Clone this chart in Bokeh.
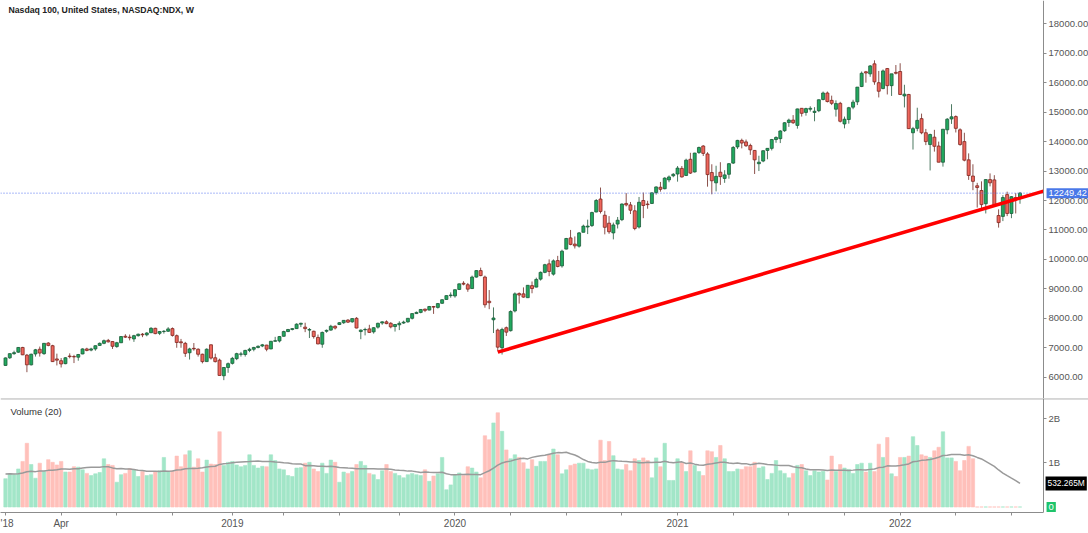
import numpy as np
from bokeh.plotting import figure
from bokeh.models import Range1d, FixedTicker, NumeralTickFormatter, Label, Span, ColumnDataSource
from bokeh.layouts import column
from bokeh.embed import file_html
from bokeh.resources import INLINE

# ---------------- data (weekly NDX, Jan 2018 - Jul 2022) ----------------
opens = [
    6400, 6660, 6800, 6850, 7010, 6750, 6420, 6790, 6950, 6800,
    7160, 7070, 6620, 6560, 6460, 6720, 6700, 6680, 6790, 6960,
    6920, 6960, 7080, 7150, 7250, 7210, 7040, 7170, 7390, 7360,
    7300, 7410, 7460, 7440, 7510, 7660, 7490, 7550, 7560, 7650,
    7410, 7200, 7150, 6830, 6980, 6950, 6780, 6530, 7100, 6660,
    6580, 6050, 6330, 6470, 6630, 6780, 6770, 6910, 6950, 7010,
    7060, 7090, 6960, 7220, 7230, 7390, 7550, 7620, 7650, 7800,
    7700, 7600, 7560, 7350, 7120, 7560, 7600, 7730, 7790, 7850,
    7940, 7880, 8000, 7550, 7610, 7640, 7540, 7700, 7840, 7880,
    7830, 7720, 7780, 7840, 7880, 8000, 8160, 8200, 8310, 8280,
    8400, 8370, 8510, 8640, 8770, 8760, 8980, 9190, 9140, 9010,
    9400, 9620, 9400, 8580, 7950, 7600, 7000, 7680, 7580, 8250,
    8840, 8830, 8700, 9110, 9060, 9330, 9560, 9850, 9500, 9960,
    9780, 10350, 10730, 10520, 10450, 10920, 11100, 11150, 11610, 12050,
    11500, 11230, 10900, 11200, 11350, 11900, 11850, 11650, 11100, 12000,
    11880, 11900, 12270, 12450, 12400, 12700, 12840, 12900, 13090, 12850,
    13400, 12970, 13630, 13850, 13580, 12950, 12600, 12960, 12750, 12890,
    13270, 13820, 14040, 13990, 13870, 13700, 13250, 13340, 13700, 13770,
    14070, 14100, 14370, 14650, 14730, 14550, 15130, 14990, 15100, 14990,
    15050, 15430, 15650, 15400, 15100, 15300, 14600, 14750, 15170, 15350,
    15870, 16370, 16300, 16640, 16000, 15800, 16480, 15900, 16350, 16380,
    15550, 15600, 14300, 14450, 14780, 14300, 13900, 14150, 13850, 13300,
    14400, 14770, 14850, 14400, 14000, 13380, 12830, 12500, 12340, 11890,
    12710, 12700, 11490, 11460, 12200, 11560, 12100, 12100,
]
highs = [
    6670, 6810, 6900, 7025, 7030, 6790, 6800, 6960, 7040, 7160,
    7190, 7100, 6800, 6650, 6680, 6810, 6760, 6790, 6980, 7000,
    7000, 7080, 7180, 7280, 7300, 7220, 7200, 7390, 7460, 7450,
    7440, 7480, 7500, 7530, 7700, 7680, 7570, 7600, 7700, 7690,
    7450, 7300, 7200, 7000, 7160, 6980, 6800, 6980, 7110, 6800,
    6630, 6340, 6500, 6690, 6830, 6860, 6930, 7000, 7030, 7080,
    7130, 7100, 7230, 7370, 7400, 7580, 7640, 7670, 7830, 7850,
    7850, 7670, 7580, 7450, 7550, 7620, 7780, 7760, 7870, 7940,
    7970, 8000, 8040, 7620, 7680, 7780, 7700, 7850, 7900, 7930,
    7870, 7800, 7900, 7920, 8010, 8170, 8230, 8310, 8330, 8420,
    8420, 8520, 8650, 8780, 8880, 8980, 9180, 9260, 9200, 9450,
    9630, 9720, 9450, 8960, 8370, 7650, 7680, 7720, 8270, 8880,
    8880, 9050, 9130, 9250, 9380, 9590, 9850, 10000, 10000, 10120,
    10330, 10730, 11000, 10780, 10930, 11180, 11350, 11620, 12050, 12440,
    11650, 11470, 11250, 11440, 11900, 12250, 11950, 11840, 12120, 12270,
    11990, 12270, 12480, 12630, 12790, 12850, 12930, 13170, 13170, 13420,
    13620, 13620, 13830, 13880, 13640, 13230, 13180, 13300, 13030, 13270,
    13850, 14060, 14100, 14070, 13930, 13710, 13520, 13700, 13780, 14090,
    14180, 14390, 14660, 14780, 14900, 15120, 15140, 15150, 15200, 15170,
    15430, 15700, 15700, 15560, 15400, 15350, 14850, 15180, 15420, 15850,
    16380, 16400, 16600, 16760, 16400, 16450, 16500, 16300, 16600, 16660,
    15930, 15620, 14500, 15150, 14950, 14430, 14270, 14400, 14000, 14420,
    14800, 15270, 14890, 14450, 14300, 13600, 13230, 12600, 12650, 12720,
    12920, 12860, 11700, 12180, 12300, 12150, 12250, 12290,
]
lows = [
    6390, 6620, 6760, 6830, 6750, 6170, 6400, 6700, 6700, 6760,
    7050, 6520, 6400, 6330, 6440, 6640, 6480, 6560, 6780, 6880,
    6880, 6900, 7060, 7120, 7180, 6960, 7000, 7160, 7330, 7250,
    7200, 7380, 7360, 7390, 7500, 7460, 7430, 7480, 7540, 7380,
    7000, 7000, 6690, 6600, 6900, 6700, 6470, 6530, 6600, 6500,
    6060, 5900, 6150, 6430, 6580, 6700, 6700, 6850, 6880, 6980,
    7020, 6880, 6950, 7210, 7180, 7380, 7530, 7590, 7640, 7700,
    7530, 7330, 7310, 7120, 7000, 7510, 7580, 7620, 7770, 7810,
    7840, 7850, 7660, 7290, 7420, 7500, 7480, 7650, 7780, 7800,
    7660, 7550, 7600, 7810, 7850, 7960, 8150, 8170, 8210, 8270,
    8150, 8330, 8490, 8630, 8700, 8700, 8960, 9120, 8900, 9000,
    9380, 9430, 8360, 8310, 7500, 6880, 6770, 7400, 7550, 8200,
    8500, 8700, 8690, 8850, 9050, 9280, 9530, 9430, 9450, 9730,
    9720, 10340, 10480, 10370, 10400, 10920, 10860, 11100, 11600, 11560,
    10850, 10870, 10680, 11050, 11300, 11800, 11540, 10990, 11050, 11400,
    11720, 11880, 12200, 12300, 12380, 12620, 12790, 12640, 12780, 12830,
    12900, 12950, 13580, 13510, 12470, 12210, 12310, 12530, 12600, 12740,
    13240, 13750, 13770, 13820, 13550, 12900, 13000, 13300, 13400, 13700,
    13960, 13950, 14330, 14500, 14600, 14440, 14850, 14880, 15020, 14690,
    15000, 15400, 15330, 15240, 14850, 14650, 14450, 14610, 15100, 15240,
    15850, 16000, 16200, 15930, 15500, 15780, 15600, 15550, 16280, 15580,
    15160, 14430, 13730, 14350, 14250, 13880, 13020, 13660, 13300, 13150,
    14250, 14600, 14310, 13860, 13330, 12700, 12350, 11760, 11680, 11560,
    12480, 11800, 11080, 11300, 11470, 11400, 11560, 11890,
]
closes = [
    6655, 6800, 6834, 7010, 6760, 6420, 6780, 6930, 6820, 7150,
    7080, 6530, 6580, 6450, 6660, 6700, 6690, 6770, 6960, 6910,
    6960, 7070, 7150, 7240, 7200, 7050, 7170, 7380, 7360, 7340,
    7410, 7460, 7440, 7500, 7660, 7480, 7550, 7560, 7640, 7420,
    7180, 7170, 6810, 6960, 6960, 6780, 6530, 6950, 6650, 6530,
    6060, 6330, 6460, 6640, 6800, 6790, 6910, 6950, 7010, 7050,
    7100, 6950, 7220, 7240, 7380, 7550, 7620, 7650, 7800, 7830,
    7650, 7620, 7380, 7130, 7520, 7590, 7730, 7670, 7850, 7930,
    7870, 7990, 7670, 7600, 7620, 7520, 7680, 7830, 7880, 7820,
    7710, 7790, 7830, 7870, 8000, 8160, 8200, 8300, 8270, 8400,
    8380, 8500, 8630, 8770, 8790, 8970, 9170, 9160, 8990, 9400,
    9620, 9450, 8460, 8530, 8010, 7020, 7620, 7530, 8230, 8830,
    8790, 8720, 9120, 9010, 9320, 9560, 9820, 9590, 9950, 9760,
    10280, 10710, 10510, 10460, 10900, 11130, 11130, 11590, 12000, 11630,
    11090, 10940, 11170, 11330, 11880, 11850, 11670, 11050, 11940, 11830,
    11860, 12260, 12460, 12380, 12760, 12800, 12890, 13100, 12800, 13370,
    12930, 13610, 13800, 13600, 12880, 12670, 12820, 12810, 12870, 13250,
    13800, 14040, 13950, 13860, 13720, 13380, 13300, 13690, 13770, 14070,
    14140, 14360, 14640, 14730, 14640, 15110, 14960, 15120, 15130, 15030,
    15420, 15650, 15360, 15300, 15290, 14690, 14760, 15150, 15340, 15850,
    16320, 16330, 16570, 16030, 15710, 16400, 15900, 16300, 16320, 15600,
    15610, 14440, 14440, 14720, 14300, 14000, 14240, 13840, 13300, 14420,
    14760, 14840, 14450, 13900, 13370, 12850, 12650, 12440, 11860, 12710,
    12600, 11830, 11250, 12100, 11560, 12130, 12050, 12249.42,
]
# weekly volume, billions of shares (data feed has no volume after early May 2022)
volumes = [
    0.64, 0.75, 0.73, 0.86, 1.03, 1.44, 0.96, 0.65, 0.99, 0.80,
    1.07, 1.01, 0.95, 1.03, 0.79, 0.79, 0.91, 0.90, 0.84, 0.76,
    0.71, 0.75, 0.78, 1.09, 0.96, 0.94, 0.56, 0.73, 0.76, 0.87,
    0.84, 0.69, 0.80, 0.71, 0.73, 0.79, 0.82, 1.12, 0.80, 0.82,
    1.15, 0.91, 1.18, 1.27, 0.90, 1.09, 0.79, 1.06, 0.97, 0.96,
    1.70, 0.94, 1.01, 1.03, 0.95, 0.91, 0.94, 1.18, 0.94, 0.88,
    0.92, 0.91, 1.18, 1.05, 0.86, 0.84, 0.71, 0.69, 0.88, 0.89,
    0.99, 1.01, 0.86, 0.80, 0.99, 0.76, 1.06, 1.01, 0.56, 0.79,
    0.76, 0.80, 0.96, 1.03, 0.94, 0.76, 0.73, 0.62, 0.82, 0.96,
    0.80, 0.76, 0.71, 0.66, 0.73, 0.76, 0.73, 0.71, 0.84, 0.58,
    0.70, 0.75, 1.12, 0.39, 0.50, 0.73, 0.77, 0.71, 0.91, 0.88,
    0.79, 0.66, 1.61, 1.52, 1.90, 2.13, 1.71, 1.29, 1.09, 1.18,
    1.12, 1.00, 0.86, 1.07, 0.92, 1.03, 1.03, 1.18, 1.31, 1.18,
    0.75, 0.84, 0.94, 0.97, 0.99, 0.99, 0.86, 0.84, 0.86, 1.51,
    1.05, 1.48, 1.16, 0.86, 0.84, 0.96, 0.82, 1.09, 1.05, 1.11,
    1.05, 0.66, 1.11, 0.91, 1.44, 0.60, 0.60, 1.09, 1.01, 0.80,
    1.27, 0.94, 0.80, 0.71, 1.27, 1.25, 1.12, 1.39, 1.09, 0.80,
    0.80, 0.86, 0.85, 0.91, 0.91, 1.01, 0.88, 0.91, 0.62, 0.76,
    1.05, 0.82, 0.76, 0.66, 0.76, 0.94, 0.96, 0.82, 0.71, 0.82,
    0.79, 0.81, 0.61, 1.15, 0.80, 0.96, 0.88, 0.85, 0.76, 0.96,
    0.99, 0.79, 0.99, 0.80, 1.42, 1.12, 1.57, 0.75, 0.69, 1.12,
    1.12, 1.15, 1.59, 1.39, 1.18, 1.15, 1.12, 1.27, 1.35, 1.70,
    1.11, 1.11, 1.03, 0.82, 1.05, 1.37, 1.09, 0.0, 0.0, 0.0,
    0.0, 0.0, 0.0, 0.0, 0.0, 0.0, 0.0, 0.0,
]
# the 19 weeks before the first bar (feed the 20-week volume average)
volumes_before = [0.72, 0.81, 0.76, 0.70, 0.88, 0.74, 0.79, 0.69, 0.83, 0.77,
                  0.92, 0.75, 0.71, 0.80, 0.86, 0.66, 0.93, 0.52, 0.49]

trend_bars = [115, 242.5]
trend_prices = [6850, 12320]
last_price = 12249.42
last_ma_volume = 0.532265  # billions

price_ticks = [6000, 7000, 8000, 9000, 10000, 11000, 12000, 13000,
               14000, 15000, 16000, 17000, 18000]
volume_ticks = [1, 2]
volume_tick_labels = {1: "1B", 2: "2B"}
time_tick_bars = [0, 13, 26, 39, 53, 65, 78, 92, 105, 118, 131, 144,
                  157, 170, 183, 196, 209, 222, 235]
time_tick_labels = {0: "'18", 13: "Apr", 53: "2019", 105: "2020",
                    157: "2021", 209: "2022"}

# ---------------- derived ----------------
n = len(closes)
xs = list(range(n))
is_up = [c >= o for o, c in zip(opens, closes)]
UP_FILL, UP_LINE, UP_WICK = "#21a95f", "#1c5a38", "#4d7a62"
DN_FILL, DN_LINE, DN_WICK = "#ef675d", "#7d2620", "#8c524c"
VOL_UP, VOL_DN = "#a2e6c8", "#ffc0ba"

all_vol = np.array(volumes_before + volumes)
ma = np.convolve(all_vol, np.ones(20) / 20.0, mode="valid")[: n]

src = ColumnDataSource(dict(
    x=xs, o=opens, h=highs, l=lows, c=closes,
    top=[max(o, c) for o, c in zip(opens, closes)],
    bot=[min(o, c) for o, c in zip(opens, closes)],
    fill=[UP_FILL if u else DN_FILL for u in is_up],
    line=[UP_LINE if u else DN_LINE for u in is_up],
    wick=[UP_WICK if u else DN_WICK for u in is_up],
    vol=volumes,
    vfill=[VOL_UP if u else VOL_DN for u in is_up],
    ma=list(ma),
))

FONT = "Liberation Sans"
AX_COLOR = "#8c8c8c"
LBL_COLOR = "#555555"

X_START = -1.17
X_AXIS_AT = 242.5          # bar position of the price-scale line
X_END = 253.0              # frame spans the whole window width
xr = Range1d(X_START, X_END)


def style_value_axis(ax):
    ax.fixed_location = X_AXIS_AT
    ax.major_label_text_font = FONT
    ax.major_label_text_font_size = "9.5px"
    ax.major_label_text_color = LBL_COLOR
    ax.axis_line_color = AX_COLOR
    ax.major_tick_line_color = AX_COLOR
    ax.major_tick_in = 0
    ax.major_tick_out = 3
    ax.minor_tick_line_color = None
    ax.major_label_standoff = 2


# ---------------- price pane ----------------
p = figure(frame_width=1088, frame_height=398, x_range=xr,
           y_range=Range1d(5277, 18791), output_backend="svg",
           toolbar_location=None, y_axis_location="right", x_axis_location=None,
           min_border_left=0, min_border_right=0, min_border_top=0, min_border_bottom=0)
p.grid.visible = False
p.outline_line_color = None
p.background_fill_color = "white"
p.border_fill_color = "white"

ya = p.yaxis[0]
ya.ticker = FixedTicker(ticks=price_ticks)
ya.formatter = NumeralTickFormatter(format="0.00")
style_value_axis(ya)

p.segment(x0="x", y0="h", x1="x", y1="l", line_color="wick", line_width=1, source=src)
p.vbar(x="x", width=0.7, top="top", bottom="bot", fill_color="fill",
       line_color="line", line_width=0.8, source=src)

p.line([X_START, X_AXIS_AT], [last_price, last_price], line_color="#5574f0",
       line_dash="1 2", line_width=1)
p.line(trend_bars, trend_prices, line_color="#ff0000", line_width=3.5)

p.add_layout(Label(x=0.7, y=18485, text="Nasdaq 100, United States, NASDAQ:NDX, W",
                   text_font=FONT, text_font_size="8.7px", text_font_style="bold",
                   text_color="#222222", text_baseline="middle", text_align="left"))
p.add_layout(Label(x=X_AXIS_AT, y=last_price, x_offset=3, text="12249.42",
                   text_font=FONT, text_font_size="9.2px", text_color="white",
                   text_baseline="middle", text_align="left",
                   background_fill_color="#4a78e8", padding=2))

# ---------------- volume pane ----------------
pv = figure(frame_width=1088, frame_height=114, x_range=xr,
            y_range=Range1d(-0.124, 2.452), output_backend="svg",
            toolbar_location=None, y_axis_location="right", x_axis_location="below",
            min_border_left=0, min_border_right=0, min_border_top=0, min_border_bottom=0)
pv.grid.visible = False
pv.outline_line_color = None
pv.background_fill_color = "white"
pv.border_fill_color = "white"

vy = pv.yaxis[0]
vy.ticker = FixedTicker(ticks=volume_ticks)
vy.major_label_overrides = volume_tick_labels
style_value_axis(vy)

vx = pv.xaxis[0]
vx.ticker = FixedTicker(ticks=time_tick_bars)
vx.major_label_overrides = {b: time_tick_labels.get(b, "") for b in time_tick_bars}
vx.bounds = (X_START, X_AXIS_AT)
vx.major_label_text_font = FONT
vx.major_label_text_font_size = "10px"
vx.major_label_text_color = LBL_COLOR
vx.axis_line_color = AX_COLOR
vx.major_tick_line_color = AX_COLOR
vx.major_tick_in = 0
vx.major_tick_out = 3
vx.minor_tick_line_color = None
vx.major_label_standoff = 2

pv.vbar(x="x", width=0.8, top="vol", bottom=0, fill_color="vfill",
        line_color="vfill", line_width=0.6, source=src)
pv.line(x="x", y="ma", line_color="#9a9a9a", line_width=1.5, source=src)

pv.add_layout(Span(location=2.445, dimension="width", line_color="#888888", line_width=1))
pv.add_layout(Label(x=1.17, y=2.165, text="Volume (20)", text_font=FONT,
                    text_font_size="9.5px", text_color="#333333",
                    text_baseline="middle", text_align="left"))
pv.add_layout(Label(x=X_AXIS_AT, y=last_ma_volume, x_offset=2, text="532.265M",
                    text_font=FONT, text_font_size="8.4px", text_color="white",
                    text_baseline="middle", text_align="left",
                    background_fill_color="#000000", padding=2))
pv.add_layout(Label(x=X_AXIS_AT, y=0, x_offset=3, text="0",
                    text_font=FONT, text_font_size="9.5px", text_color="white",
                    text_baseline="middle", text_align="left",
                    background_fill_color="#1ec46b", padding=2))

layout = column(p, pv, spacing=0)
open("out.html", "w").write(file_html(layout, INLINE))
